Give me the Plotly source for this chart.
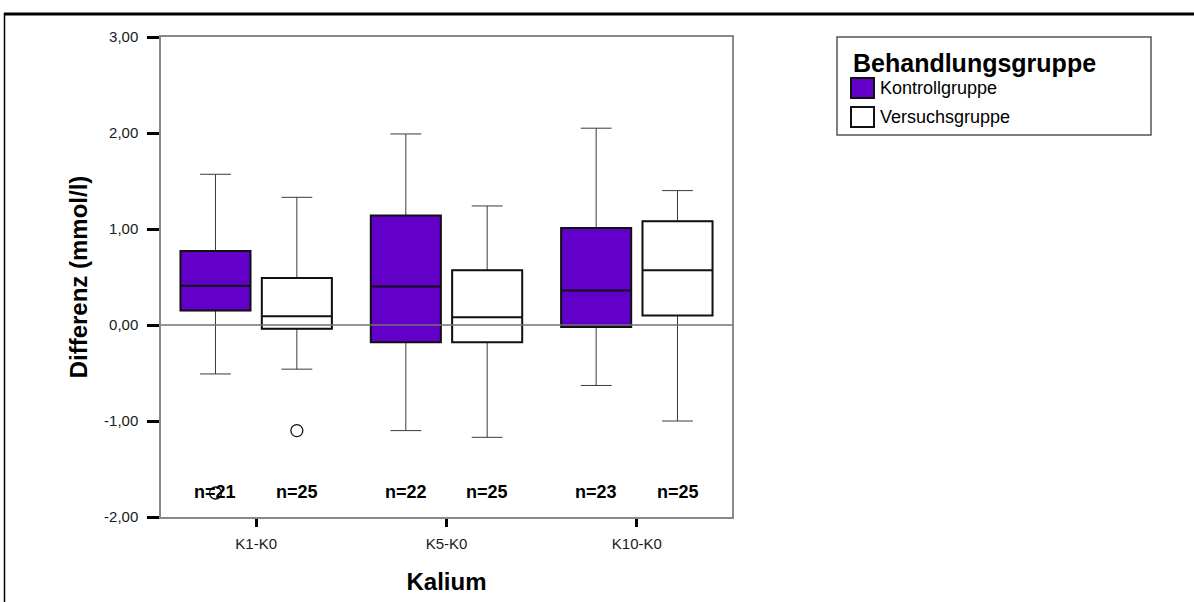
import plotly.graph_objects as go

# ---- data -------------------------------------------------------------
categories = ["K1-K0", "K5-K0", "K10-K0"]
groups = ["Kontrollgruppe", "Versuchsgruppe"]

kontroll_lower = [-0.51, -1.10, -0.63]
kontroll_q1 = [0.15, -0.18, -0.02]
kontroll_median = [0.41, 0.40, 0.36]
kontroll_q3 = [0.77, 1.14, 1.01]
kontroll_upper = [1.57, 1.99, 2.05]
kontroll_n = [21, 22, 23]
kontroll_outliers = [-1.75]
kontroll_outlier_cat = [0]

versuch_lower = [-0.46, -1.17, -1.00]
versuch_q1 = [-0.04, -0.18, 0.10]
versuch_median = [0.09, 0.08, 0.57]
versuch_q3 = [0.49, 0.57, 1.08]
versuch_upper = [1.33, 1.24, 1.40]
versuch_n = [25, 25, 25]
versuch_outliers = [-1.10]
versuch_outlier_cat = [0]

y_tick_values = [3, 2, 1, 0, -1, -2]
y_tick_labels = ["3,00", "2,00", "1,00", "0,00", "-1,00", "-2,00"]

# ---- layout constants ------------------------------------------------
W, H = 1194, 602
ML, MR, MT, MB = 161, 462, 37, 85
PURPLE = "#6200CA"
FONT = "Arial, Liberation Sans, sans-serif"
GROUP_OFFSET = 0.2137     # centre of each box relative to its category
BOX_WIDTH = 0.368
N_LABEL_Y = -1.74


def px_x(px):
    return (px - ML) / (W - ML - MR)


def px_y(py):
    return (H - MB - py) / (H - MT - MB)


def positions(sign):
    return [i + sign * GROUP_OFFSET for i in range(len(categories))]


series = [
    dict(name=groups[0], fill=PURPLE, pos=positions(-1), lower=kontroll_lower,
         q1=kontroll_q1, med=kontroll_median, q3=kontroll_q3, upper=kontroll_upper,
         n=kontroll_n, out=kontroll_outliers, out_cat=kontroll_outlier_cat),
    dict(name=groups[1], fill="white", pos=positions(1), lower=versuch_lower,
         q1=versuch_q1, med=versuch_median, q3=versuch_q3, upper=versuch_upper,
         n=versuch_n, out=versuch_outliers, out_cat=versuch_outlier_cat),
]

fig = go.Figure()

for s in series:
    # whiskers (thin grey)
    fig.add_trace(go.Box(
        x=s["pos"], q1=s["q1"], median=s["med"], q3=s["q3"],
        lowerfence=s["lower"], upperfence=s["upper"],
        width=BOX_WIDTH, whiskerwidth=0.44,
        fillcolor="rgba(0,0,0,0)", line=dict(color="#3a3a3a", width=1),
        boxpoints=False, name=s["name"], showlegend=False, hoverinfo="skip",
    ))
    # filled box body with heavier outline
    fig.add_trace(go.Box(
        x=s["pos"], q1=s["q1"], median=s["med"], q3=s["q3"],
        lowerfence=s["q1"], upperfence=s["q3"],
        width=BOX_WIDTH, whiskerwidth=0,
        fillcolor=s["fill"], line=dict(color="#111111", width=2),
        boxpoints=False, name=s["name"], showlegend=False,
    ))
    # outliers
    fig.add_trace(go.Scatter(
        x=[s["pos"][c] for c in s["out_cat"]], y=s["out"], mode="markers",
        marker=dict(symbol="circle-open", size=12, color="#111111",
                    line=dict(width=1.3)),
        showlegend=False, hoverinfo="skip",
    ))

# n= labels under each box
annotations = []
for s in series:
    for x, n in zip(s["pos"], s["n"]):
        annotations.append(dict(
            x=x, y=N_LABEL_Y, xref="x", yref="y", text=f"<b>n={n}</b>",
            showarrow=False, font=dict(family=FONT, size=18, color="black"),
        ))

# legend
annotations.append(dict(
    x=px_x(851), y=px_y(63), xref="paper", yref="paper", xanchor="left",
    yanchor="middle", text="<b>Behandlungsgruppe</b>", showarrow=False,
    font=dict(family=FONT, size=25, color="black"),
))
legend_rows = [(88, groups[0], PURPLE), (117, groups[1], "white")]
shapes = []
for yc, label, col in legend_rows:
    annotations.append(dict(
        x=px_x(878), y=px_y(yc), xref="paper", yref="paper", xanchor="left",
        yanchor="middle", text=label, showarrow=False,
        font=dict(family=FONT, size=18, color="black"),
    ))
    shapes.append(dict(
        type="rect", xref="paper", yref="paper",
        x0=px_x(851), x1=px_x(874), y0=px_y(yc - 10), y1=px_y(yc + 10),
        fillcolor=col, line=dict(color="#111111", width=2),
    ))
shapes.append(dict(
    type="rect", xref="paper", yref="paper",
    x0=px_x(837), x1=px_x(1151), y0=px_y(37), y1=px_y(135),
    line=dict(color="#555555", width=1.5), fillcolor="rgba(0,0,0,0)",
))

# zero reference line across the plot
shapes.append(dict(
    type="line", xref="paper", yref="y", x0=0, x1=1, y0=0, y1=0,
    line=dict(color="#707070", width=1.5), layer="above",
))

# page frame
shapes.append(dict(
    type="line", xref="paper", yref="paper", x0=px_x(4), x1=px_x(W + 5),
    y0=px_y(14), y1=px_y(14), line=dict(color="black", width=3),
))
shapes.append(dict(
    type="line", xref="paper", yref="paper", x0=px_x(4.5), x1=px_x(4.5),
    y0=px_y(13), y1=px_y(H + 5), line=dict(color="black", width=1.5),
))

fig.update_layout(
    width=W, height=H,
    margin=dict(l=ML, r=MR, t=MT, b=MB),
    paper_bgcolor="white", plot_bgcolor="white",
    boxmode="overlay",
    font=dict(family=FONT, color="#1a1a1a"),
    annotations=annotations, shapes=shapes,
    showlegend=False,
    xaxis=dict(
        range=[-0.5, len(categories) - 0.5], tickvals=list(range(len(categories))),
        ticktext=categories, tickfont=dict(size=15, family=FONT),
        ticks="outside", ticklen=8, tickwidth=3, tickcolor="black",
        showline=True, linecolor="#888888", linewidth=1.5, mirror=True,
        showgrid=False, zeroline=False, ticklabelstandoff=4,
        title=dict(text="<b>Kalium</b>", font=dict(size=24, family=FONT, color="black"),
                   standoff=22),
    ),
    yaxis=dict(
        range=[-2, 3], tickvals=y_tick_values, ticktext=y_tick_labels,
        tickfont=dict(size=15, family=FONT),
        ticks="outside", ticklen=12, tickwidth=3, tickcolor="black",
        showline=True, linecolor="#888888", linewidth=1.5, mirror=True,
        showgrid=False, zeroline=False, ticklabelstandoff=6,
        title=dict(text="<b>Differenz (mmol/l)</b>",
                   font=dict(size=24, family=FONT, color="black"), standoff=10),
    ),
)

fig.write_html("out.html")
